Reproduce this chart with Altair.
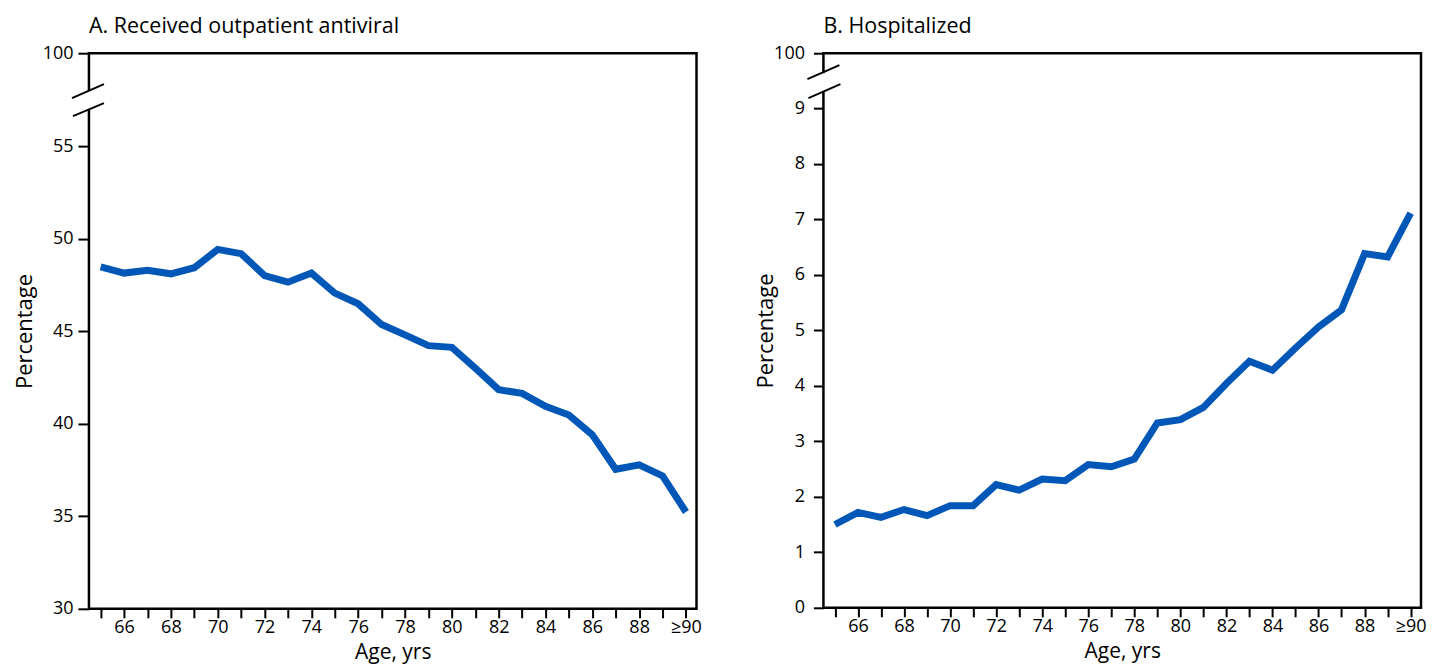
import altair as alt
import pandas as pd

ages = list(range(65, 91))
antiviral = [48.47, 48.14, 48.29, 48.10, 48.43, 49.42, 49.19, 48.01, 47.65, 48.14,
             47.06, 46.48, 45.36, 44.80, 44.22, 44.13, 43.01, 41.84, 41.64, 40.94,
             40.47, 39.40, 37.54, 37.78, 37.18, 35.23]
hospitalized = [1.50, 1.72, 1.63, 1.77, 1.66, 1.84, 1.84, 2.22, 2.12, 2.32,
                2.29, 2.58, 2.54, 2.68, 3.33, 3.39, 3.61, 4.04, 4.44, 4.28,
                4.68, 5.06, 5.37, 6.38, 6.32, 7.11]
ticks_a = [30, 35, 40, 45, 50, 55, 100]
ticks_b = [0, 1, 2, 3, 4, 5, 6, 7, 8, 9, 100]

FONT = "Open Sans"
BLUE = "#0057b8"


def panel(values, title, ydomain, yrange, yticks, width, height, cover, slash1, slash2,
          ytick, ypad, ytitlepad):
    df = pd.DataFrame({"age": ages, "pct": values})
    x = alt.X("age:Q",
              scale=alt.Scale(domain=[64.5, 90.45], nice=False, zero=False),
              axis=alt.Axis(values=ages,
                            labelExpr="datum.value == 90 ? '≥90' : (datum.value % 2 == 0 ? datum.label : '')",
                            title="Age, yrs"))
    y = alt.Y("pct:Q",
              scale=alt.Scale(domain=ydomain, range=yrange, nice=False, zero=False),
              axis=alt.Axis(values=yticks, title="Percentage", tickSize=ytick,
                            labelPadding=ypad, titlePadding=ytitlepad))
    line = alt.Chart(df).mark_line(color=BLUE, strokeWidth=7).encode(x=x, y=y)
    dummy = pd.DataFrame({"a": [0]})
    cov = alt.Chart(dummy).mark_rule(color="white", strokeWidth=5).encode(
        x=alt.value(0), y=alt.value(cover[0]), y2=alt.value(cover[1]))
    s1 = alt.Chart(dummy).mark_rule(color="black", strokeWidth=2).encode(
        x=alt.value(slash1[0]), y=alt.value(slash1[1]),
        x2=alt.value(slash1[2]), y2=alt.value(slash1[3]))
    s2 = alt.Chart(dummy).mark_rule(color="black", strokeWidth=2).encode(
        x=alt.value(slash2[0]), y=alt.value(slash2[1]),
        x2=alt.value(slash2[2]), y2=alt.value(slash2[3]))
    return alt.layer(line, cov, s1, s2).properties(
        width=width, height=height,
        title=alt.TitleParams(title, anchor="start", frame="group", fontSize=21.5,
                              fontWeight="normal", font=FONT, color="black", offset=7))


left = panel(antiviral, "A. Received outpatient antiviral", [30, 55, 100], [556, 93, 0],
             ticks_a, 608, 556, (38, 56), (-17, 45, 15, 31), (-16, 63, 15, 50),
             11, 5, 6)
right = panel(hospitalized, "B. Hospitalized", [0, 9, 100], [555, 55, 0],
              ticks_b, 598, 555, (20, 38), (-16, 26, 16, 12), (-15, 45, 17, 31),
              10, 9, -4)

chart = alt.hconcat(left, right, spacing=127, bounds="flush").properties(
    padding={"left": 3, "top": 6, "right": 0, "bottom": 0}
).configure_view(
    stroke="black", strokeWidth=2.5
).configure_axis(
    domain=False, grid=False, tickColor="black", tickWidth=2,
    labelColor="black", labelFont=FONT, labelFontSize=18,
    titleColor="black", titleFont=FONT, titleFontSize=22, titleFontWeight="normal"
).configure_axisX(
    tickSize=9, labelPadding=1, titlePadding=5, titleFontSize=21
)

chart.save("out.html", embed_options={"renderer": "svg", "actions": False})
